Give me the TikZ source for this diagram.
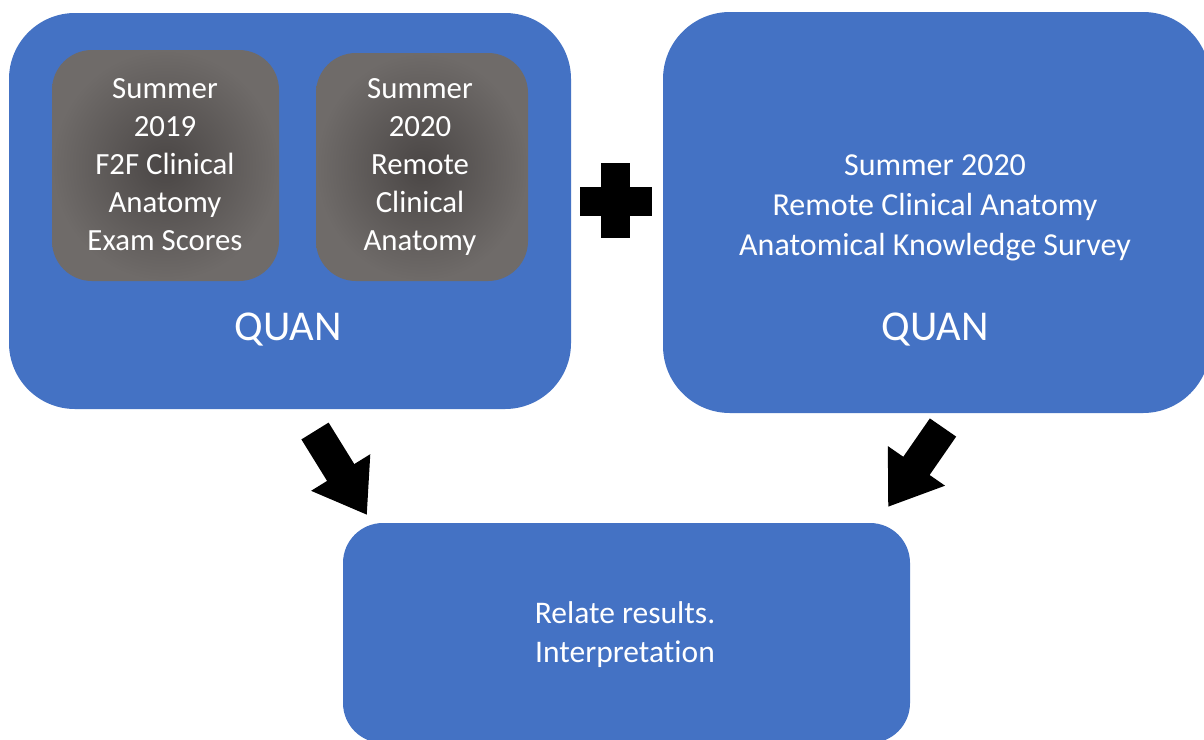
\documentclass[tikz,border=0pt]{standalone}
\usepackage{fontspec}
\setmainfont{Carlito}[Ligatures={NoCommon}]
\usetikzlibrary{arrows.meta}
\definecolor{boxblue}{HTML}{4472C4}
\definecolor{grayin}{HTML}{4A4645}
\definecolor{grayout}{HTML}{6F6B69}
\tikzset{
  bluebox/.style={fill=boxblue, draw=none, inner sep=0pt},
  graybox/.style={inner color=grayin, outer color=grayout, draw=none, inner sep=0pt, rounded corners=40pt},
  whitetext/.style={text=white, align=center, inner sep=0pt},
  bigarrow/.style={line width=32pt, draw=black, -{Triangle[length=50pt,width=66pt]}},
}
\begin{document}
\begin{tikzpicture}[x=1pt,y=-1pt]
\useasboundingbox (0,0) rectangle (1204,739);
\clip (0,0) rectangle (1204,739);
\fill[white] (0,0) rectangle (1204,739);
% big boxes
\node[bluebox, rounded corners=66pt, minimum width=562pt, minimum height=396pt] (left) at (290,211) {};
\node[bluebox, rounded corners=67pt, minimum width=547pt, minimum height=401pt] (right) at (936.5,212.5) {};
\node[bluebox, rounded corners=40pt, minimum width=567pt, minimum height=220pt] (bottom) at (626.5,633) {};
% gray inner boxes
\node[graybox, minimum width=227pt, minimum height=231pt] (g1) at (165.5,165.5) {};
\node[graybox, minimum width=212pt, minimum height=228pt] (g2) at (422,167) {};
% texts
\node[whitetext, font=\fontsize{30.8}{38}\selectfont] (t1) at (165,165) {Summer\\2019\\F2F Clinical\\Anatomy\\Exam Scores};
\node[whitetext, font=\fontsize{30.8}{38}\selectfont] (t2) at (420,167) {Summer\\2020\\Remote\\Clinical\\Anatomy};
\node[whitetext, font=\fontsize{42.5}{50}\selectfont] (q1) at (288,330) {QUAN};
\node[whitetext, font=\fontsize{32}{40}\selectfont] (t3) at (935,208) {Summer 2020\\Remote Clinical Anatomy\\Anatomical Knowledge Survey};
\node[whitetext, font=\fontsize{42.5}{50}\selectfont] (q2) at (935,330) {QUAN};
\node[whitetext, font=\fontsize{31.5}{39}\selectfont] (t4) at (625,635) {Relate results.\\Interpretation};
% plus sign
\node[fill=black, draw=none, minimum width=29pt, minimum height=75pt, inner sep=0pt] (plusv) at (615.5,200.5) {};
\node[fill=black, draw=none, minimum width=72pt, minimum height=29pt, inner sep=0pt] (plush) at (616,201.5) {};
% block arrows
\coordinate (la1) at (315,431);
\coordinate (la2) at (367,515);
\coordinate (ra1) at (943,427.5);
\coordinate (ra2) at (888,507);
\draw[bigarrow] (la1) -- (la2);
\draw[bigarrow] (ra1) -- (ra2);
\end{tikzpicture}
\end{document}
